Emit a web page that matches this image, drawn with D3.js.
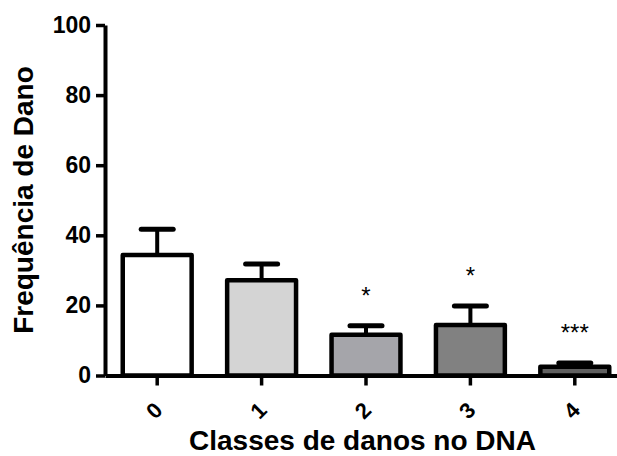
<!DOCTYPE html>
<html>
<head>
<meta charset="utf-8">
<script src="https://cdn.jsdelivr.net/npm/d3@7"></script>
<style>
  html, body { margin: 0; padding: 0; background: #fff; }
  svg { display: block; }
  text { font-family: "Liberation Sans", Arial, Helvetica, sans-serif; fill: #000; }
</style>
</head>
<body>
<script>
// DNA damage classes and mean frequency per class, with error (upper SD)
const categories = ["0", "1", "2", "3", "4"];
const means      = [34.4, 27.2, 11.6, 14.4, 2.5];
const errorTops  = [41.7, 31.8, 14.2, 19.8, 3.6];
const markers    = ["", "", "*", "*", "***"];
const barFills   = ["#ffffff", "#d4d4d4", "#a5a5aa", "#818181", "#606060"];
const yTicks     = [0, 20, 40, 60, 80, 100];

const W = 617, H = 456;
const svg = d3.select("body").append("svg").attr("width", W).attr("height", H);

const axisX = 105, baseY = 375.5, topY = 25;
const FONT = "'Liberation Sans', Arial, sans-serif";

const x = d3.scaleBand()
  .domain(categories)
  .range([axisX, axisX + 5 * 104.4])
  .paddingInner(0.34)
  .paddingOuter(0.17);

const y = d3.scaleLinear().domain([0, 100]).range([baseY, topY]);

const data = categories.map((c, i) => ({
  c, mean: means[i], err: errorTops[i], mark: markers[i], fill: barFills[i]
}));

// error bars (drawn first, bars cover the lower end)
const eb = svg.append("g").attr("stroke", "#000").attr("fill", "none");
eb.selectAll("line.stem").data(data).join("line")
  .attr("class", "stem")
  .attr("x1", d => x(d.c) + x.bandwidth() / 2)
  .attr("x2", d => x(d.c) + x.bandwidth() / 2)
  .attr("y1", d => y(d.mean))
  .attr("y2", d => y(d.err))
  .attr("stroke-width", 4);
eb.selectAll("line.cap").data(data).join("line")
  .attr("class", "cap")
  .attr("x1", d => x(d.c) + x.bandwidth() / 2 - 16)
  .attr("x2", d => x(d.c) + x.bandwidth() / 2 + 16)
  .attr("y1", d => y(d.err))
  .attr("y2", d => y(d.err))
  .attr("stroke-width", 5)
  .attr("stroke-linecap", "round");

// bars
svg.append("g").selectAll("rect").data(data).join("rect")
  .attr("x", d => x(d.c))
  .attr("y", d => y(d.mean))
  .attr("width", x.bandwidth())
  .attr("height", d => baseY - y(d.mean))
  .attr("fill", d => d.fill)
  .attr("stroke", "#000")
  .attr("stroke-width", 4.5)
  .attr("stroke-linejoin", "round");

// significance markers
svg.append("g").selectAll("text").data(data.filter(d => d.mark)).join("text")
  .attr("x", d => x(d.c) + x.bandwidth() / 2)
  .attr("y", d => y(d.err) - 22)
  .attr("text-anchor", "middle")
  .attr("font-size", 24)
  .text(d => d.mark);

// y axis
const yAxis = svg.append("g")
  .attr("transform", `translate(${axisX},0)`)
  .call(d3.axisLeft(y).tickValues(yTicks).tickSize(9).tickSizeOuter(0).tickPadding(5));
yAxis.attr("font-family", FONT);
yAxis.select(".domain").attr("stroke-width", 4);
yAxis.selectAll(".tick line").attr("stroke-width", 3.5);
yAxis.selectAll(".tick text")
  .attr("font-size", 23).attr("font-weight", "bold");

// x axis
const xAxis = svg.append("g")
  .attr("transform", `translate(0,${baseY})`)
  .call(d3.axisBottom(x).tickSize(10).tickSizeOuter(0));
xAxis.attr("font-family", FONT);
xAxis.select(".domain").attr("stroke-width", 4);
xAxis.selectAll(".tick line").attr("stroke-width", 3.5);
xAxis.selectAll(".tick text")
  .attr("font-size", 22).attr("font-weight", "bold")
  .attr("text-anchor", "middle")
  .attr("dy", null)
  .attr("dominant-baseline", "central")
  .attr("transform", "translate(-3,35) rotate(-45)")
  .attr("y", 0);

// axis titles
svg.append("text")
  .attr("x", 362.5).attr("y", 450)
  .attr("text-anchor", "middle")
  .attr("font-size", 28).attr("font-weight", "bold")
  .text("Classes de danos no DNA");

svg.append("text")
  .attr("transform", "translate(33,200) rotate(-90)")
  .attr("text-anchor", "middle")
  .attr("font-size", 28).attr("font-weight", "bold")
  .text("Frequência de Dano");
</script>
</body>
</html>
